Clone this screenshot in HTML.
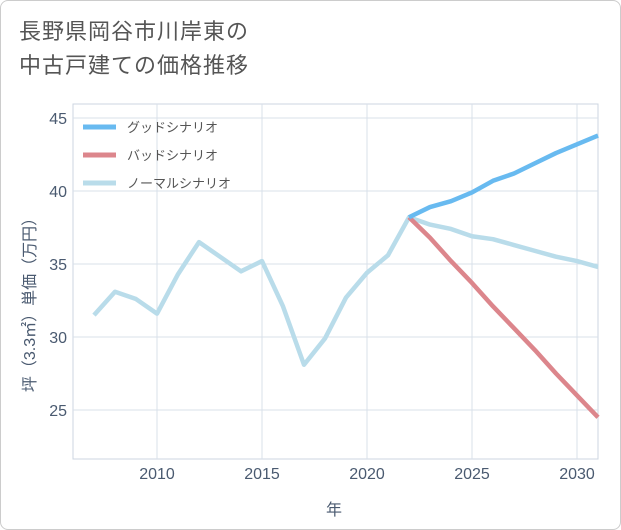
<!DOCTYPE html>
<html><head><meta charset="utf-8"><style>
body{margin:0;background:#fff;font-family:"Liberation Sans","Noto Sans CJK JP",sans-serif;}
#wrap{position:relative;width:619px;height:528px;border:1px solid #ccc;border-radius:8px;overflow:hidden;background:#fff}
#title{position:absolute;left:18px;top:14px;font-size:22px;line-height:34px;color:#555;letter-spacing:1px}
svg{position:absolute;left:0;top:0}
text{font-family:"Liberation Sans","Noto Sans CJK JP",sans-serif}
</style></head><body>
<div id="wrap">
<div id="title">長野県岡谷市川岸東の<br>中古戸建ての価格推移</div>
<svg id="chart" width="621" height="530"></svg>
</div>
<script>
const years=[2007,2008,2009,2010,2011,2012,2013,2014,2015,2016,2017,2018,2019,2020,2021,2022,2023,2024,2025,2026,2027,2028,2029,2030,2031];
const normal=[31.5,33.1,32.6,31.6,34.3,36.5,35.5,34.5,35.2,32.1,28.1,29.9,32.7,34.4,35.6,38.2,37.7,37.4,36.9,36.7,36.3,35.9,35.5,35.2,34.8];
const goodYears=[2022,2023,2024,2025,2026,2027,2028,2029,2030,2031];
const good=[38.2,38.9,39.3,39.9,40.7,41.2,41.9,42.6,43.2,43.8];
const bad=[38.2,36.8,35.2,33.7,32.1,30.6,29.1,27.5,26.0,24.5];
const xTicks=[2010,2015,2020,2025,2030];
const yTicks=[25,30,35,40,45];
const NS="http://www.w3.org/2000/svg";
const svg=document.getElementById('chart');
const L=72,R=597,T=103,B=458;
const x=v=>156+(v-2010)*21;
const y=v=>117+(45-v)*14.6;
function mk(t,a){const e=document.createElementNS(NS,t);for(const k in a)e.setAttribute(k,a[k]);svg.appendChild(e);return e;}
const bg=mk('rect',{x:L,y:T,width:R-L,height:B-T,fill:'#fff',stroke:'#ccd6e0'});


xTicks.forEach(t=>{
 const g=mk('line',{x1:x(t),x2:x(t),y1:T,y2:B,stroke:'#d8e0ea'});
 
 
 const tx=mk('text',{x:x(t),y:478,'text-anchor':'middle','font-size':16,fill:'#4a5a70'});tx.textContent=t;
 
 
});
yTicks.forEach(t=>{
 const g=mk('line',{x1:L,x2:R,y1:y(t),y2:y(t),stroke:'#d8e0ea'});
 
 
 const tx=mk('text',{x:66,y:y(t)+6,'text-anchor':'end','font-size':16,fill:'#4a5a70'});tx.textContent=t;
 
 
});
function line(xs,vs,c,name){const p=mk('polyline',{points:xs.map((v,i)=>x(v)+','+y(vs[i])).join(' '),fill:'none',stroke:c,'stroke-width':4.5,'stroke-linejoin':'round'});
 
 }
line(years,normal,'#b9dcea','normal-scenario-line');
line(goodYears,bad,'#dc868c','bad-scenario-line');
line(goodYears,good,'#68baf0','good-scenario-line');
const leg=[['グッドシナリオ','#68baf0'],['バッドシナリオ','#dc868c'],['ノーマルシナリオ','#b9dcea']];
leg.forEach((l,i)=>{
 const ly=126+i*28;
 const ln=mk('line',{x1:82,x2:115,y1:ly,y2:ly,stroke:l[1],'stroke-width':5});
 
 
 const t=mk('text',{x:126,y:ly+5,'font-size':13,fill:'#555'});t.textContent=l[0];
 
 
});
const xt=mk('text',{x:333,y:514,'text-anchor':'middle','font-size':16,fill:'#4a5a70'});xt.textContent='年';


const yt=mk('text',{x:0,y:0,'text-anchor':'middle','font-size':16,fill:'#4a5a70',transform:'translate(34,300) rotate(-90)'});yt.textContent='坪（3.3㎡）単価（万円）';


</script>
</body></html>
